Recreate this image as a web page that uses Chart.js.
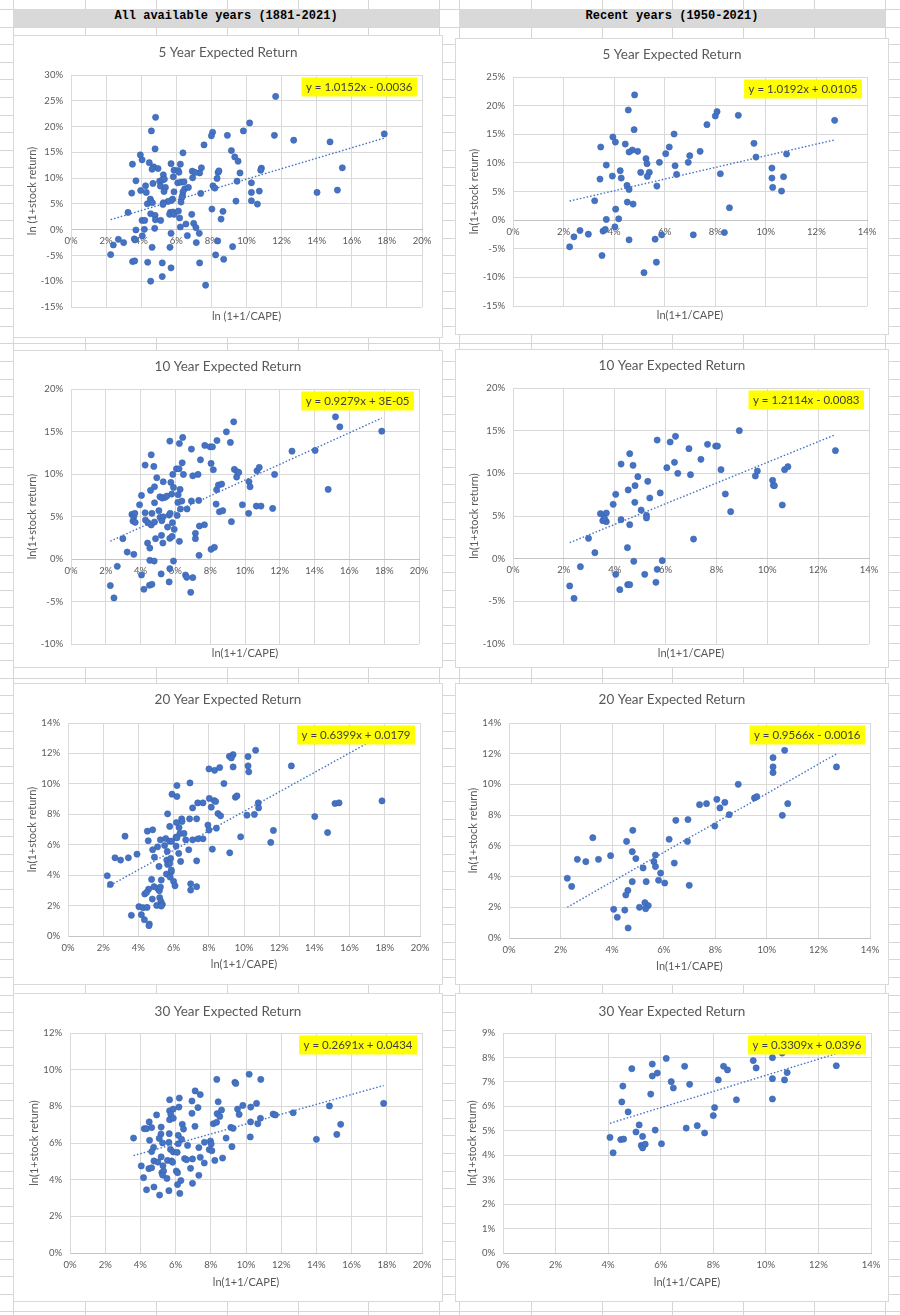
<!DOCTYPE html>
<html>
<head>
<meta charset="utf-8">
<title>CAPE vs expected return</title>
<script src="https://cdn.jsdelivr.net/npm/chart.js@4.4.1/dist/chart.umd.min.js"></script>
<style>
    body {
        margin: 0;
        width: 900px;
        height: 1315px;
        position: relative;
        overflow: hidden;
        background-color: #fff;
        /* spreadsheet rows */
        background-image: repeating-linear-gradient(to bottom, #d6d6d6 0, #d6d6d6 1px, transparent 1px, transparent 17.6px);
        background-position: 0 9px;
    }
    .col { position: absolute; top: 0; width: 1px; height: 1315px; background: #d6d6d6; }
    .band {
        position: absolute; top: 9px; height: 18px; line-height: 18px;
        background: #d9d9d9; color: #000; text-align: center;
        font: bold 12px "Liberation Mono", monospace;
    }
    canvas.panel {
        position: absolute; background: #fff;
        outline: 1px solid #d9d9d9; outline-offset: -1px;
    }
</style>
</head>
<body>
<div class="band" style="left:13px;width:426px">All available years (1881-2021)</div>
<div class="band" style="left:459px;width:426px">Recent years (1950-2021)</div>

<script>
// x = ln(1+1/CAPE) in %, y = ln(1+stock return) in %
const allYears5 = [[11.66,25.85],[4.82,21.8],[4.58,19.15],[10.18,20.7],[8.07,18.9],[8.0,18.2],[8.91,18.3],[9.82,19.15],[11.59,18.3],[12.69,17.35],[17.85,18.57],[14.76,17.02],[4.79,15.67],[6.38,14.9],[7.58,16.44],[3.95,14.5],[4.05,13.54],[4.46,13.0],[3.5,12.7],[9.14,15.34],[9.33,14.1],[9.52,13.28],[5.7,12.8],[6.23,12.7],[4.71,12.19],[4.62,11.73],[4.96,11.86],[7.43,12.0],[7.33,11.0],[6.91,11.35],[7.07,11.1],[5.87,11.54],[6.1,11.48],[6.15,11.15],[5.26,10.64],[5.83,10.25],[6.93,10.06],[8.38,11.1],[8.43,11.4],[8.32,9.93],[9.63,11.0],[10.85,11.93],[10.81,11.54],[3.7,9.48],[4.67,8.96],[5.05,9.41],[5.2,9.6],[5.32,9.8],[6.08,9.09],[6.27,9.22],[6.44,9.28],[9.46,9.41],[10.28,9.09],[4.25,8.51],[5.09,8.45],[5.38,8.19],[8.09,8.51],[8.2,8.06],[6.48,7.93],[6.69,8.19],[3.97,7.6],[3.46,7.09],[4.29,7.22],[5.3,7.41],[5.87,7.35],[6.38,7.35],[6.36,6.64],[6.32,6.25],[7.39,7.03],[10.28,7.22],[10.73,7.48],[14.02,7.22],[15.18,7.67],[15.46,12.0],[4.52,5.93],[5.79,5.93],[5.72,5.67],[5.53,5.48],[4.35,5.03],[4.56,5.48],[4.64,5.22],[5.26,5.22],[5.24,4.9],[6.27,5.35],[9.4,5.54],[10.28,5.61],[10.62,4.96],[3.25,3.35],[4.54,3.09],[4.79,2.77],[5.66,3.35],[5.62,2.97],[5.81,3.42],[5.87,2.97],[6.12,3.61],[6.19,2.26],[6.88,2.97],[8.03,4.0],[8.66,3.55],[8.55,2.06],[4.05,1.8],[4.2,1.8],[4.81,1.93],[5.11,1.8],[6.55,1.1],[6.99,1.22],[7.12,0.39],[6.23,0.52],[3.7,-0.06],[4.18,0.06],[4.77,0.26],[4.06,-1.22],[3.61,-1.8],[3.65,-2.0],[2.7,-1.87],[2.41,-2.97],[3.0,-2.51],[5.7,-0.71],[6.63,-1.16],[7.31,-0.71],[7.14,-2.51],[8.36,-2.19],[9.21,-3.29],[4.62,-3.42],[5.64,-3.42],[2.26,-4.84],[3.51,-6.19],[3.63,-6.06],[4.37,-6.32],[5.2,-6.45],[7.33,-6.45],[8.24,-4.9],[8.7,-5.74],[5.7,-7.41],[5.2,-9.09],[4.54,-9.99],[7.67,-10.77]];

const recentYears5 = [[4.81,21.87],[4.56,19.24],[4.79,15.8],[3.95,14.52],[4.05,13.64],[4.44,13.29],[3.47,12.77],[4.72,12.24],[4.59,11.9],[4.93,12.01],[6.37,15.04],[6.18,12.77],[6.04,11.6],[7.4,12.01],[6.99,11.25],[5.26,10.73],[5.3,9.85],[5.79,10.09],[6.41,9.5],[6.93,10.09],[6.47,7.99],[3.69,9.62],[3.93,7.7],[4.24,8.63],[4.28,7.35],[3.44,7.17],[5.05,8.34],[5.39,8.34],[5.31,7.64],[4.51,6.06],[4.59,5.36],[5.69,5.95],[7.67,16.68],[8.0,18.19],[8.07,18.95],[8.91,18.31],[12.72,17.43],[9.53,13.41],[9.61,11.02],[10.82,11.55],[8.2,8.1],[10.24,9.1],[10.24,7.35],[10.7,7.58],[10.27,5.71],[10.62,5.07],[3.23,3.38],[4.52,3.15],[4.75,2.8],[8.56,2.16],[4.06,1.92],[3.69,0.12],[4.18,0.23],[4.03,-1.17],[3.56,-1.92],[3.65,-1.63],[2.65,-1.81],[2.98,-2.45],[2.41,-2.92],[2.24,-4.66],[3.52,-6.18],[4.59,-3.44],[5.62,-3.32],[5.88,-2.57],[7.13,-2.57],[8.36,-2.16],[5.18,-9.18],[5.67,-7.35]];

const allYears10 = [[15.2,16.73],[15.45,15.55],[17.86,15.04],[9.35,16.14],[8.93,14.96],[9.16,13.71],[8.39,13.94],[7.69,13.36],[7.99,13.2],[8.13,13.2],[6.42,14.3],[6.23,13.59],[5.68,13.87],[6.92,12.93],[4.61,12.26],[4.26,11.05],[4.76,10.89],[6.39,11.32],[7.44,11.67],[8.05,11.24],[8.18,10.5],[6.06,10.61],[6.21,10.61],[5.85,9.95],[6.46,9.95],[7.0,9.79],[7.3,9.95],[4.93,9.56],[5.3,9.09],[5.74,9.01],[5.89,8.42],[6.27,8.19],[4.8,8.5],[4.57,8.07],[4.05,7.48],[5.11,7.32],[5.24,7.17],[5.39,7.25],[5.51,7.4],[5.79,7.64],[6.16,7.56],[4.8,6.62],[3.94,6.38],[6.14,6.66],[6.37,6.82],[6.92,6.82],[7.34,6.89],[6.67,5.88],[6.29,5.88],[8.37,8.15],[8.47,8.7],[8.66,8.81],[10.23,9.09],[10.29,8.5],[9.39,10.54],[9.56,10.26],[9.52,9.64],[9.64,10.18],[10.69,10.38],[10.82,10.77],[11.7,9.95],[12.7,12.69],[14.03,12.77],[14.78,8.19],[8.34,6.46],[9.85,6.38],[10.65,6.23],[10.92,6.23],[11.59,5.95],[10.21,5.37],[8.53,5.56],[8.72,5.68],[9.22,4.39],[3.5,5.25],[3.61,4.97],[3.67,5.37],[3.56,4.47],[3.69,4.31],[4.26,5.44],[4.28,4.58],[4.42,4.27],[4.61,4.0],[4.8,4.35],[4.65,5.37],[5.05,5.68],[5.12,4.9],[5.3,4.97],[5.22,4.5],[5.64,5.17],[5.7,5.37],[6.1,5.13],[5.83,4.27],[5.55,3.76],[5.93,3.49],[7.38,3.88],[7.67,4.03],[7.15,3.02],[7.15,2.39],[5.2,2.78],[4.86,2.39],[5.68,2.43],[5.81,2.66],[5.28,1.88],[6.23,2.08],[2.98,2.39],[3.23,0.82],[3.61,0.55],[4.4,1.88],[4.53,1.29],[7.36,0.43],[8.05,1.14],[8.24,1.37],[4.53,-0.16],[4.78,-0.24],[5.89,-0.24],[2.66,-0.86],[4.05,-1.88],[5.18,-1.76],[5.68,-1.14],[6.58,-1.88],[6.65,-2.15],[7.0,-2.19],[5.64,-2.7],[4.51,-3.09],[4.65,-2.98],[4.19,-3.56],[6.88,-3.92],[2.26,-3.13],[2.47,-4.58]];

const recentYears10 = [[8.9,15.0],[5.67,13.9],[6.18,13.67],[6.39,14.34],[6.92,12.89],[7.65,13.4],[7.97,13.2],[8.04,13.2],[4.59,12.3],[4.25,11.09],[4.72,10.94],[7.39,11.64],[6.35,11.29],[6.05,10.66],[6.48,10.0],[6.98,9.84],[8.18,10.43],[4.91,9.61],[5.3,9.06],[4.8,8.55],[4.53,8.05],[4.04,7.54],[5.79,7.7],[5.38,7.11],[8.35,7.58],[4.79,6.6],[3.94,6.37],[5.04,5.7],[3.44,5.27],[3.57,5.04],[3.67,5.35],[3.53,4.45],[3.67,4.34],[3.6,4.69],[4.25,4.57],[5.25,5.08],[5.25,4.77],[4.59,3.98],[8.56,5.51],[9.53,9.69],[9.61,10.27],[10.21,9.18],[10.24,8.59],[10.28,8.55],[10.68,10.43],[10.81,10.78],[10.59,6.29],[12.68,12.66],[2.97,2.38],[3.22,0.7],[4.5,1.29],[7.1,2.3],[4.75,-0.31],[5.87,-0.23],[2.65,-0.94],[4.04,-1.84],[5.18,-1.84],[5.67,-1.25],[5.62,-2.77],[4.2,-3.63],[4.51,-3.05],[4.59,-3.05],[2.23,-3.2],[2.4,-4.65]];

const allYears20 = [[10.66,12.21],[9.38,11.92],[9.17,11.81],[9.28,11.7],[10.23,11.79],[10.23,11.18],[10.27,10.79],[9.38,11.11],[8.01,10.98],[8.33,10.89],[8.62,11.07],[12.69,11.18],[6.19,9.89],[6.93,10.06],[8.86,10.02],[5.91,9.32],[6.19,9.17],[8.03,9.04],[8.31,8.9],[8.39,8.84],[9.51,9.12],[9.6,9.21],[7.08,8.42],[7.37,8.75],[7.67,8.75],[8.14,8.47],[10.81,8.75],[10.83,8.42],[8.52,8.05],[8.67,7.9],[10.17,7.94],[10.59,7.99],[14.02,7.85],[15.17,8.71],[15.4,8.75],[17.84,8.88],[5.66,8.03],[6.46,7.7],[6.48,7.53],[6.91,7.7],[7.31,7.7],[6.16,7.46],[5.78,7.2],[6.31,7.13],[7.95,7.29],[8.01,6.96],[8.43,7.09],[11.67,6.94],[14.75,6.8],[3.24,6.56],[4.51,6.89],[4.81,6.98],[4.56,6.26],[5.25,6.32],[5.55,6.41],[5.78,6.23],[5.89,6.23],[6.14,6.5],[6.19,6.45],[6.36,6.74],[6.59,6.74],[6.69,6.32],[7.08,6.32],[7.39,6.39],[7.67,6.39],[9.81,6.52],[11.52,6.15],[5.09,5.86],[4.81,5.67],[5.49,5.95],[5.64,5.56],[6.14,5.91],[6.86,5.67],[8.2,5.71],[9.19,5.47],[3.92,5.38],[3.43,5.14],[2.67,5.14],[2.99,4.99],[4.91,5.18],[6.29,5.43],[5.61,4.99],[5.83,5.1],[6.4,4.9],[7.31,4.94],[5.17,4.57],[5.66,4.7],[5.78,4.77],[5.59,4.07],[5.87,4.22],[5.8,3.87],[6.0,3.59],[6.08,3.3],[2.23,3.96],[2.41,3.39],[4.75,3.72],[5.3,3.68],[4.89,3.24],[4.58,3.08],[4.36,2.76],[4.47,2.87],[5.11,3.11],[5.19,2.98],[5.25,3.22],[6.97,3.43],[6.97,3.02],[7.31,3.24],[4.79,2.43],[5.21,2.52],[5.28,2.28],[5.36,2.08],[5.04,2.01],[5.3,1.97],[4.03,1.93],[4.26,1.86],[4.49,1.88],[3.6,1.36],[4.17,1.4],[4.34,1.07],[4.62,0.79],[4.6,0.68],[5.87,4.33]];

const recentYears20 = [[10.69,12.22],[10.24,11.74],[10.24,11.14],[10.24,10.77],[12.7,11.14],[8.89,10.01],[9.52,9.12],[9.61,9.2],[8.06,9.03],[8.37,8.83],[7.39,8.68],[7.66,8.75],[8.18,8.47],[10.81,8.75],[8.54,8.03],[10.6,7.99],[6.47,7.66],[6.94,7.71],[7.98,7.29],[4.8,7.01],[6.21,6.43],[6.92,6.29],[4.56,6.29],[3.25,6.53],[4.78,5.62],[3.94,5.36],[4.92,5.17],[5.68,5.4],[2.65,5.12],[2.98,4.97],[3.47,5.12],[5.62,4.97],[5.68,4.65],[6.41,4.88],[5.2,4.56],[5.88,4.23],[5.8,3.76],[6.04,3.58],[4.78,3.67],[5.32,3.67],[6.99,3.43],[2.26,3.89],[2.43,3.36],[4.61,3.1],[4.53,2.8],[5.27,2.3],[5.4,2.11],[5.06,2.0],[5.3,1.91],[4.06,1.87],[4.49,1.82],[4.2,1.35],[4.62,0.65]];

const allYears30 = [[10.18,9.75],[8.34,9.47],[9.37,9.31],[9.42,9.25],[10.84,9.47],[7.11,8.84],[7.4,8.64],[6.21,8.45],[5.66,8.36],[6.93,8.29],[8.42,8.25],[6.19,7.96],[7.27,7.93],[9.82,8.05],[10.27,7.96],[10.6,8.16],[14.74,8.02],[17.82,8.16],[5.66,7.76],[5.87,7.85],[5.73,7.56],[6.93,7.62],[8.36,7.6],[8.61,7.8],[8.51,7.45],[9.52,7.85],[9.61,7.56],[11.54,7.58],[11.67,7.53],[12.68,7.65],[4.92,7.53],[5.66,7.27],[5.87,7.35],[4.5,7.15],[8.14,7.05],[8.33,7.13],[10.26,7.15],[10.82,7.35],[10.67,7.05],[6.38,7.02],[6.45,6.76],[7.1,6.91],[4.22,6.78],[4.35,6.78],[4.64,6.84],[5.18,6.87],[9.14,6.85],[9.27,6.8],[5.17,6.49],[5.07,6.25],[5.64,6.51],[6.15,6.42],[6.34,6.2],[3.61,6.27],[4.52,6.15],[8.87,6.27],[10.24,6.33],[14.0,6.2],[15.16,6.47],[15.38,7.02],[5.26,6.0],[5.62,6.04],[6.15,5.96],[6.68,5.87],[7.64,6.04],[7.98,6.11],[8.02,5.95],[4.75,5.76],[4.64,5.53],[5.71,5.65],[5.87,5.51],[6.09,5.49],[7.32,5.75],[7.91,5.64],[8.06,5.58],[9.2,5.8],[5.18,5.24],[4.77,5.02],[4.99,4.96],[5.54,5.05],[5.77,5.02],[5.83,4.95],[5.28,4.76],[6.51,5.15],[6.62,5.09],[6.96,5.13],[7.4,5.22],[7.63,4.91],[8.23,5.05],[8.67,5.18],[4.05,4.75],[4.48,4.6],[4.64,4.65],[6.85,4.62],[5.22,4.38],[5.32,4.47],[5.26,4.25],[6.04,4.47],[6.11,4.38],[4.18,4.11],[5.51,4.07],[6.3,3.95],[7.32,4.24],[6.96,3.8],[6.11,3.73],[4.35,3.45],[4.77,3.6],[5.62,3.4],[5.09,3.16],[6.24,3.25]];

const recentYears30 = [[6.21,7.96],[5.68,7.73],[4.9,7.54],[5.68,7.24],[5.87,7.36],[6.91,7.64],[6.4,7.01],[6.48,6.75],[7.1,6.9],[4.56,6.83],[5.62,6.5],[4.52,6.18],[4.76,5.77],[8.39,7.64],[8.54,7.49],[8.19,7.08],[9.52,7.87],[9.63,7.57],[10.25,7.99],[10.62,8.18],[10.25,7.13],[10.71,7.08],[10.81,7.38],[12.68,7.66],[10.25,6.3],[8.88,6.27],[8.05,5.95],[8.0,5.62],[5.18,5.24],[5.06,4.95],[5.31,4.77],[5.79,5.03],[6.97,5.11],[7.39,5.21],[7.67,4.91],[4.07,4.73],[4.48,4.64],[4.59,4.66],[5.26,4.4],[5.31,4.3],[5.41,4.45],[6.03,4.47],[4.19,4.1]];

// chart order: left column (all years), right column (recent years), row by row
const seriesList = [allYears5, recentYears5, allYears10, recentYears10, allYears20, recentYears20, allYears30, recentYears30];
const chartTitles = ['5 Year Expected Return', '5 Year Expected Return', '10 Year Expected Return', '10 Year Expected Return',
    '20 Year Expected Return', '20 Year Expected Return', '30 Year Expected Return', '30 Year Expected Return'];
const yTitles = ['ln (1+stock return)', 'ln(1+stock return)', 'ln(1+stock return)', 'ln(1+stock return)',
    'ln(1+stock return)', 'ln(1+stock return)', 'ln(1+stock return)', 'ln(1+stock return)'];
const xTitles = ['ln (1+1/CAPE)', 'ln(1+1/CAPE)', 'ln(1+1/CAPE)', 'ln(1+1/CAPE)',
    'ln(1+1/CAPE)', 'ln(1+1/CAPE)', 'ln(1+1/CAPE)', 'ln(1+1/CAPE)'];
const equations = ['y = 1.0152x - 0.0036', 'y = 1.0192x + 0.0105', 'y = 0.9279x + 3E-05', 'y = 1.2114x - 0.0083',
    'y = 0.6399x + 0.0179', 'y = 0.9566x - 0.0016', 'y = 0.2691x + 0.0434', 'y = 0.3309x + 0.0396'];
const slopes = [1.0152, 1.0192, 0.9279, 1.2114, 0.6399, 0.9566, 0.2691, 0.3309];
const intercepts = [-0.0036, 0.0105, 0.00003, -0.0083, 0.0179, -0.0016, 0.0434, 0.0396];
const xMax = [20, 14, 20, 14, 20, 14, 20, 14];
const yMin = [-15, -15, -10, -10, 0, 0, 0, 0];
const yMax = [30, 25, 20, 20, 14, 14, 12, 9];
const yStep = [5, 5, 5, 5, 2, 2, 2, 1];

// panel boxes on the page and plot area inside each panel
const panels = [
    { x: 13, y: 35, w: 430, h: 303, left: 58, right: 409, top: 40, bottom: 272, titleY: 18, yTitleX: 19, xTitleY: 281 },
    { x: 455, y: 38, w: 434, h: 297, left: 58, right: 412, top: 39, bottom: 268, titleY: 17, yTitleX: 19, xTitleY: 277 },
    { x: 13, y: 350, w: 430, h: 318, left: 58, right: 406, top: 39, bottom: 294, titleY: 17, yTitleX: 19, xTitleY: 303 },
    { x: 455, y: 349, w: 434, h: 319, left: 58, right: 414, top: 39, bottom: 295, titleY: 17, yTitleX: 19, xTitleY: 304 },
    { x: 13, y: 683, w: 430, h: 302, left: 55, right: 407, top: 40, bottom: 253, titleY: 17, yTitleX: 19, xTitleY: 281 },
    { x: 455, y: 683, w: 434, h: 302, left: 54, right: 415, top: 40, bottom: 255, titleY: 17, yTitleX: 18, xTitleY: 283 },
    { x: 13, y: 993, w: 430, h: 309, left: 57, right: 409, top: 40, bottom: 260, titleY: 19, yTitleX: 21, xTitleY: 289 },
    { x: 455, y: 993, w: 434, h: 309, left: 48, right: 416, top: 40, bottom: 260, titleY: 19, yTitleX: 17, xTitleY: 289 }
];

// spreadsheet column lines
const columnLines = [13, 85, 156, 227, 298, 368, 439, 459, 531, 602, 672, 743, 814, 885];
columnLines.forEach(function (cx) {
    var d = document.createElement('div');
    d.className = 'col';
    d.style.left = cx + 'px';
    document.body.insertBefore(d, document.body.firstChild);
});

const textGray = '#595959';
const gridGray = '#d9d9d9';
const markerBlue = '#4472c4';

// titles, axis titles and the yellow trendline equation
const panelText = {
    id: 'panelText',
    afterDatasetsDraw(chart, args, o) {
        const ctx = chart.ctx;
        const a = chart.chartArea;
        ctx.save();

        ctx.fillStyle = textGray;
        ctx.textAlign = 'center';
        ctx.textBaseline = 'middle';
        ctx.font = '13.5px Lato';
        ctx.fillText(o.title, chart.width / 2, o.titleY);

        ctx.font = '11px Lato';
        ctx.fillText(o.xTitle, (a.left + a.right) / 2, o.xTitleY);

        ctx.save();
        ctx.translate(o.yTitleX, (a.top + a.bottom) / 2);
        ctx.rotate(-Math.PI / 2);
        ctx.fillText(o.yTitle, 0, 0);
        ctx.restore();

        // equation box in the top right corner
        ctx.font = '11.5px Lato';
        const tw = ctx.measureText(o.equation).width;
        const bw = tw + 9, bh = 19;
        const bx = a.right - 5 - bw, by = a.top + 2.5;
        ctx.fillStyle = '#ffff00';
        ctx.fillRect(bx, by, bw, bh);
        ctx.fillStyle = '#404040';
        ctx.fillText(o.equation, bx + bw / 2, by + bh / 2 + 0.5);

        ctx.restore();
    }
};

function pct(v) {
    return v + '%';
}

seriesList.forEach(function (series, i) {
    const p = panels[i];
    const canvas = document.createElement('canvas');
    canvas.className = 'panel';
    canvas.width = p.w;
    canvas.height = p.h;
    canvas.style.left = p.x + 'px';
    canvas.style.top = p.y + 'px';
    canvas.style.width = p.w + 'px';
    canvas.style.height = p.h + 'px';
    document.body.appendChild(canvas);

    const points = series.map(function (d) { return { x: d[0], y: d[1] }; });
    const xs = series.map(function (d) { return d[0]; });
    const xLo = Math.min.apply(null, xs), xHi = Math.max.apply(null, xs);
    // linear trendline from the fitted equation (x and y in %)
    const trend = [
        { x: xLo, y: slopes[i] * xLo + intercepts[i] * 100 },
        { x: xHi, y: slopes[i] * xHi + intercepts[i] * 100 }
    ];

    const tickFont = { family: 'Lato', size: 9.5 };

    new Chart(canvas, {
        type: 'scatter',
        data: {
            datasets: [{
                type: 'line',
                data: trend,
                borderColor: markerBlue,
                borderWidth: 1.4,
                borderDash: [1.5, 2],
                pointRadius: 0,
                fill: false,
                order: 0
            }, {
                data: points,
                backgroundColor: markerBlue,
                borderColor: '#3a63ad',
                borderWidth: 0.6,
                pointRadius: 3.1,
                order: 1
            }]
        },
        options: {
            responsive: false,
            animation: false,
            devicePixelRatio: 1,
            events: [],
            layout: { padding: { top: p.top, right: p.w - p.right, bottom: p.h - p.bottom, left: 0 } },
            plugins: {
                legend: { display: false },
                tooltip: { enabled: false },
                panelText: {
                    title: chartTitles[i],
                    xTitle: xTitles[i],
                    yTitle: yTitles[i],
                    equation: equations[i],
                    titleY: p.titleY,
                    yTitleX: p.yTitleX,
                    xTitleY: p.xTitleY
                }
            },
            scales: {
                x: {
                    type: 'linear',
                    min: 0,
                    max: xMax[i],
                    position: { y: 0 },
                    ticks: { stepSize: 2, callback: pct, font: tickFont, color: textGray, padding: 6, maxRotation: 0 },
                    grid: { color: gridGray, drawTicks: false },
                    border: { color: '#c4c4c4' }
                },
                y: {
                    type: 'linear',
                    min: yMin[i],
                    max: yMax[i],
                    ticks: { stepSize: yStep[i], callback: pct, font: tickFont, color: textGray, padding: 8 },
                    grid: { color: gridGray, drawTicks: false },
                    border: { color: gridGray },
                    afterFit: function (axis) { axis.width = p.left; }
                }
            }
        },
        plugins: [panelText]
    });
});
</script>
</body>
</html>
